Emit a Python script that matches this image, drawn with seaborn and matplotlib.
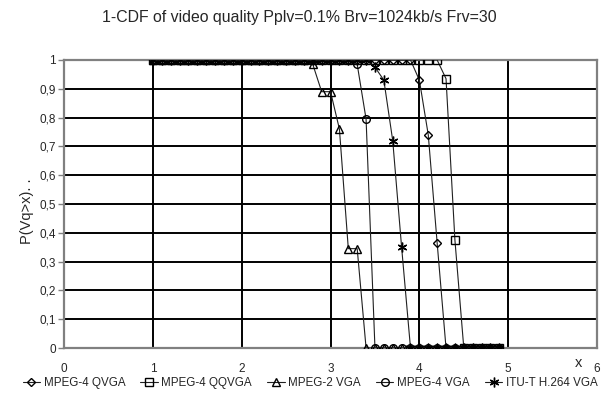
import numpy as np
import pandas as pd
import matplotlib
matplotlib.use("Agg")
import matplotlib.pyplot as plt
import seaborn as sns

# video quality threshold x
x_vals = [1.0, 1.1, 1.2, 1.3, 1.4, 1.5, 1.6, 1.7, 1.8, 1.9,
          2.0, 2.1, 2.2, 2.3, 2.4, 2.5, 2.6, 2.7, 2.8, 2.9,
          3.0, 3.1, 3.2, 3.3, 3.4, 3.5, 3.6, 3.7, 3.8, 3.9,
          4.0, 4.1, 4.2, 4.3, 4.4, 4.5, 4.6, 4.7, 4.8, 4.9]

mpeg4_qvga = [1, 1, 1, 1, 1, 1, 1, 1, 1, 1,
              1, 1, 1, 1, 1, 1, 1, 1, 1, 1,
              1, 1, 1, 1, 1, 1, 1, 1, 1, 1,
              0.93, 0.74, 0.365, 0, 0, 0, 0, 0, 0, 0]
mpeg4_qqvga = [1, 1, 1, 1, 1, 1, 1, 1, 1, 1,
               1, 1, 1, 1, 1, 1, 1, 1, 1, 1,
               1, 1, 1, 1, 1, 1, 1, 1, 1, 1,
               1, 1, 1, 0.935, 0.375, 0, 0, 0, 0, 0]
mpeg2_vga = [1, 1, 1, 1, 1, 1, 1, 1, 1, 1,
             1, 1, 1, 1, 1, 1, 1, 1, 0.985, 0.89,
             0.89, 0.76, 0.345, 0.345, 0, 0, 0, 0, 0, 0,
             0, 0, 0, 0, 0, 0, 0, 0, 0, 0]
mpeg4_vga = [1, 1, 1, 1, 1, 1, 1, 1, 1, 1,
             1, 1, 1, 1, 1, 1, 1, 1, 1, 1,
             1, 1, 1, 0.985, 0.795, 0, 0, 0, 0, 0,
             0, 0, 0, 0, 0, 0, 0, 0, 0, 0]
h264_vga = [1, 1, 1, 1, 1, 1, 1, 1, 1, 1,
            1, 1, 1, 1, 1, 1, 1, 1, 1, 1,
            1, 1, 1, 1, 1, 0.975, 0.93, 0.72, 0.35, 0,
            0, 0, 0, 0, 0, 0, 0, 0, 0, 0]

series_names = ["MPEG-4 QVGA", "MPEG-4 QQVGA", "MPEG-2 VGA", "MPEG-4 VGA", "ITU-T H.264 VGA"]
series_vals = [mpeg4_qvga, mpeg4_qqvga, mpeg2_vga, mpeg4_vga, h264_vga]
y_ticks = [0, 0.1, 0.2, 0.3, 0.4, 0.5, 0.6, 0.7, 0.8, 0.9, 1]
y_ticklabels = ["0", "0,1", "0,2", "0,3", "0,4", "0,5", "0,6", "0,7", "0,8", "0,9", "1"]
x_ticks = [0, 1, 2, 3, 4, 5, 6]

rows = []
for name, vals in zip(series_names, series_vals):
    for xv, yv in zip(x_vals, vals):
        rows.append({"x": xv, "p": yv, "codec": name})
df = pd.DataFrame(rows)

sns.set_style("white")
plt.rcParams["font.family"] = ["Liberation Sans", "DejaVu Sans"]

fig = plt.figure(figsize=(6.08, 3.96), dpi=100)
ax = fig.add_axes([0.1053, 0.1212, 0.8767, 0.7273])

markers = {"MPEG-4 QVGA": "D", "MPEG-4 QQVGA": "s", "MPEG-2 VGA": "^",
           "MPEG-4 VGA": "o", "ITU-T H.264 VGA": (6, 2, 0)}
sizes = {"MPEG-4 QVGA": 4.5, "MPEG-4 QQVGA": 5.5, "MPEG-2 VGA": 5.5,
         "MPEG-4 VGA": 5.5, "ITU-T H.264 VGA": 7}

for name in series_names:
    sub = df[df["codec"] == name]
    sns.lineplot(data=sub, x="x", y="p", ax=ax, color="#202020", linewidth=0.8,
                 marker=markers[name], markersize=sizes[name],
                 markerfacecolor="none", markeredgecolor="black",
                 markeredgewidth=1.0, label=name, zorder=3)

ax.set_xlim(0, 6)
ax.set_ylim(0, 1)
ax.set_xticks(x_ticks)
ax.set_yticks(y_ticks)
ax.set_yticklabels(y_ticklabels)

ax.grid(True, color="black", linewidth=1.4)
for gl in [ax.yaxis.get_gridlines()[0], ax.yaxis.get_gridlines()[-1],
           ax.xaxis.get_gridlines()[0], ax.xaxis.get_gridlines()[-1]]:
    gl.set_visible(False)

for sp in ax.spines.values():
    sp.set_color("#808080")
    sp.set_linewidth(1.6)
    sp.set_visible(True)

ax.tick_params(axis="y", which="major", length=4, width=1, color="#808080",
               labelsize=8.5, pad=2, left=True)
ax.tick_params(axis="x", which="major", length=0, labelsize=8.5, pad=11)

ax.set_xlabel("x", fontsize=10.5)
ax.xaxis.set_label_coords(0.965, -0.027)
ax.set_ylabel("P(Vq>x). .", fontsize=10.5)
ax.yaxis.set_label_coords(-0.056, 0.476)

fig.text(0.492, 0.955, "1-CDF of video quality Pplv=0.1% Brv=1024kb/s Frv=30",
         ha="center", va="center", fontsize=11.4)

ax.legend(loc="center", bbox_to_anchor=(0.51, 0.032), bbox_transform=fig.transFigure,
          ncol=5, frameon=False, fontsize=8.4, handlelength=1.5, handletextpad=0.3,
          columnspacing=1.3, borderaxespad=0, borderpad=0)

fig.savefig("out.png", dpi=100)
